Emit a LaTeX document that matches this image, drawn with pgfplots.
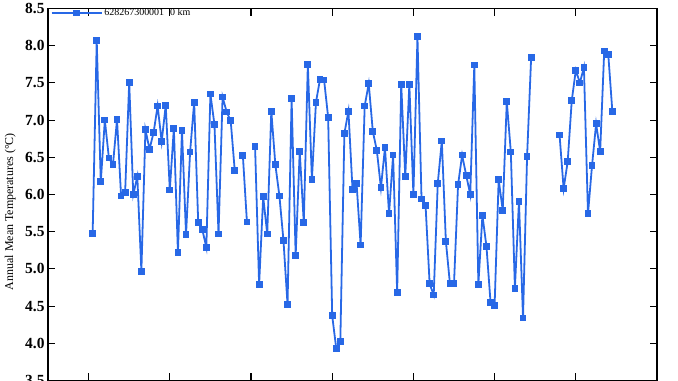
\documentclass[border=0pt]{standalone}
\usepackage{pgfplots}
\pgfplotsset{compat=1.18}
\usepackage{fontspec}
\setmainfont{Liberation Serif}
\definecolor{lineblue}{RGB}{40,104,230}
\begin{document}
\begin{tikzpicture}
\begin{axis}[
  scale only axis,
  width=609bp, height=372bp,
  xmin=1870, xmax=2020,
  ymin=3.5, ymax=8.5,
  xtick={1880,1900,...,2000},
  xticklabels={},
  ytick={3.5,4.0,...,8.5},
  /pgf/number format/assume math mode=true,
  /pgf/number format/fixed,
  /pgf/number format/fixed zerofill,
  /pgf/number format/precision=1,
  yticklabel style={font=\fontsize{15.5}{15.5}\selectfont\bfseries},
  tick align=inside,
  major tick length=7bp,
  axis line style={line width=1.4pt},
  tick style={line width=1.2pt, black},
  every axis y label/.style={at={(axis description cs:-0.062,0.454)},rotate=90,anchor=center},
  ylabel={\fontsize{12}{12}\selectfont Annual Mean Temperatures (°C)},
  unbounded coords=jump,
  legend style={at={(axis description cs:0.004,0.988)}, anchor=west, draw=none, fill=none,
    font=\fontsize{10}{10}\selectfont, inner xsep=0pt, inner ysep=0pt},
  legend image code/.code={\draw[mark repeat=2,mark phase=2,#1] plot coordinates {(0bp,0bp) (25bp,0bp) (50bp,0bp)};},
]
\addplot[color=lineblue, line width=1.8pt, mark=square*, mark size=2.5bp, mark options={solid, fill=lineblue}]
table[row sep=\\] {
x y\\
1881 5.48\\ 1882 8.07\\ 1883 6.17\\ 1884 7.00\\ 1885 6.49\\ 1886 6.40\\ 1887 7.01\\ 1888 5.98\\
1889 6.03\\ 1890 7.51\\ 1891 6.00\\ 1892 6.24\\ 1893 4.97\\ 1894 6.87\\ 1895 6.61\\ 1896 6.83\\
1897 7.19\\ 1898 6.71\\ 1899 7.20\\ 1900 6.06\\ 1901 6.89\\ 1902 5.22\\ 1903 6.86\\ 1904 5.46\\
1905 6.57\\ 1906 7.24\\ 1907 5.62\\ 1908 5.53\\ 1909 5.29\\ 1910 7.35\\ 1911 6.94\\ 1912 5.47\\
1913 7.31\\ 1914 7.11\\ 1915 6.99\\ 1916 6.32\\ 1917 nan\\ 1918 6.52\\ 1919 5.63\\ 1920 nan\\
1921 6.65\\ 1922 4.79\\ 1923 5.97\\ 1924 5.47\\ 1925 7.12\\ 1926 6.40\\ 1927 5.98\\ 1928 5.38\\
1929 4.52\\ 1930 7.29\\ 1931 5.18\\ 1932 6.58\\ 1933 5.62\\ 1934 7.75\\ 1935 6.20\\ 1936 7.24\\
1937 7.55\\ 1938 7.54\\ 1939 7.04\\ 1940 4.37\\ 1941 3.93\\ 1942 4.02\\ 1943 6.82\\ 1944 7.12\\
1945 6.07\\ 1946 6.15\\ 1947 5.32\\ 1948 7.19\\ 1949 7.49\\ 1950 6.85\\ 1951 6.59\\ 1952 6.09\\
1953 6.63\\ 1954 5.74\\ 1955 6.53\\ 1956 4.68\\ 1957 7.48\\ 1958 6.24\\ 1959 7.48\\ 1960 6.00\\
1961 8.12\\ 1962 5.94\\ 1963 5.85\\ 1964 4.80\\ 1965 4.65\\ 1966 6.15\\ 1967 6.72\\ 1968 5.37\\
1969 4.80\\ 1970 4.80\\ 1971 6.13\\ 1972 6.53\\ 1973 6.26\\ 1974 6.00\\ 1975 7.74\\ 1976 4.79\\
1977 5.72\\ 1978 5.30\\ 1979 4.55\\ 1980 4.51\\ 1981 6.20\\ 1982 5.79\\ 1983 7.25\\ 1984 6.57\\
1985 4.74\\ 1986 5.91\\ 1987 4.34\\ 1988 6.51\\ 1989 7.84\\ 1990 nan\\
1996 6.80\\ 1997 6.08\\ 1998 6.44\\ 1999 7.26\\ 2000 7.67\\ 2001 7.50\\ 2002 7.71\\ 2003 5.74\\
2004 6.39\\ 2005 6.95\\ 2006 6.58\\ 2007 7.93\\ 2008 7.88\\ 2009 7.12\\
};
\addlegendentry{628267300001\hspace{6bp}0 km}
\end{axis}
\pgfresetboundingbox
\path[use as bounding box] ([xshift=-48bp,yshift=-0.5bp]current axis.south west) rectangle ([xshift=21bp,yshift=8.5bp]current axis.north east);
\end{tikzpicture}
\end{document}
